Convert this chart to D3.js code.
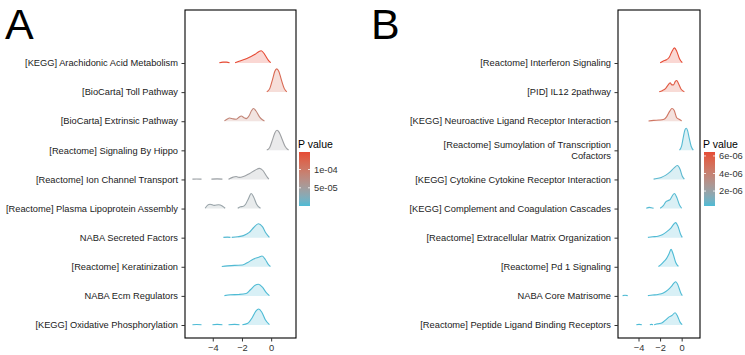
<!DOCTYPE html>
<html><head><meta charset="utf-8">
<script src="https://cdn.jsdelivr.net/npm/d3@7"></script>
<style>body{margin:0;background:#fff}svg{display:block;font-family:"Liberation Sans",Arial,sans-serif}</style>
</head><body>
<svg id="chart" width="745" height="355"></svg>
<script>
// ---------------- data ----------------
const pathwaysA = [
  "[KEGG] Arachidonic Acid Metabolism","[BioCarta] Toll Pathway","[BioCarta] Extrinsic Pathway",
  "[Reactome] Signaling By Hippo","[Reactome] Ion Channel Transport","[Reactome] Plasma Lipoprotein Assembly",
  "NABA Secreted Factors","[Reactome] Keratinization","NABA Ecm Regulators","[KEGG] Oxidative Phosphorylation"];
const pvalA = [1.478e-4,1.2e-4,8.5e-5,4.5e-5,4.3e-5,4.0e-5,3e-6,2e-6,1e-6,3e-7];
// density curves: list of segments, each a list of [log fold change, density]
const densA = [
  [[[-3.55,0.01],[-3.3,0.03],[-3.05,0.03],[-2.85,0.01]],
   [[-2.47,0.01],[-2.2,0.06],[-1.8,0.13],[-1.49,0.2],[-1.1,0.3],[-0.85,0.39],[-0.68,0.42],[-0.45,0.3],[-0.2,0.1],[-0.03,0.01]]],
  [[[-0.3,0.01],[-0.1,0.12],[0.1,0.45],[0.25,0.72],[0.38,0.8],[0.52,0.72],[0.7,0.42],[0.9,0.12],[1.07,0.01]]],
  [[[-3.2,0.01],[-3.0,0.08],[-2.86,0.11],[-2.6,0.08],[-2.4,0.07],[-2.2,0.14],[-2.05,0.18],[-1.85,0.12],[-1.71,0.09],[-1.5,0.2],[-1.35,0.36],[-1.21,0.44],[-1.05,0.36],[-0.8,0.15],[-0.6,0.05],[-0.46,0.01]]],
  [[[-0.3,0.01],[-0.1,0.1],[0.1,0.38],[0.25,0.6],[0.4,0.69],[0.55,0.62],[0.75,0.38],[0.95,0.14],[1.19,0.01]]],
  [[[-5.39,0.01],[-5.1,0.015],[-4.77,0.01]],
   [[-4.09,0.01],[-3.7,0.02],[-3.34,0.01]],
   [[-2.92,0.01],[-2.6,0.08],[-2.4,0.1],[-2.2,0.07],[-1.9,0.1],[-1.5,0.2],[-1.1,0.32],[-0.8,0.38],[-0.55,0.3],[-0.3,0.1],[-0.16,0.01]]],
  [[[-4.52,0.01],[-4.35,0.12],[-4.18,0.15],[-3.9,0.11],[-3.6,0.13],[-3.35,0.09],[-3.15,0.01]],
   [[-2.29,0.01],[-2.1,0.06],[-1.95,0.07],[-1.75,0.15],[-1.55,0.35],[-1.37,0.52],[-1.2,0.4],[-1.0,0.15],[-0.73,0.01]]],
  [[[-3.27,0.01],[-3.0,0.02],[-2.79,0.01]],
   [[-2.7,0.01],[-2.3,0.03],[-1.9,0.07],[-1.5,0.18],[-1.2,0.35],[-0.87,0.48],[-0.6,0.38],[-0.35,0.15],[-0.12,0.01]]],
  [[[-3.38,0.01],[-3.0,0.03],[-2.5,0.05],[-1.97,0.06],[-1.6,0.15],[-1.2,0.27],[-0.85,0.33],[-0.62,0.37],[-0.4,0.25],[-0.2,0.08],[-0.05,0.01]]],
  [[[-3.2,0.01],[-2.8,0.04],[-2.2,0.05],[-1.71,0.08],[-1.4,0.22],[-1.1,0.37],[-0.87,0.4],[-0.6,0.3],[-0.35,0.12],[-0.12,0.01]]],
  [[[-5.39,0.01],[-5.1,0.015],[-4.77,0.01]],
   [[-4.02,0.01],[-3.7,0.02],[-3.34,0.01]],
   [[-2.92,0.01],[-2.5,0.02],[-2.17,0.01]],
   [[-1.97,0.01],[-1.6,0.06],[-1.3,0.25],[-1.05,0.48],[-0.85,0.55],[-0.65,0.45],[-0.4,0.18],[-0.12,0.01]]]
];

const pathwaysB = [
  "[Reactome] Interferon Signaling","[PID] IL12 2pathway","[KEGG] Neuroactive Ligand Receptor Interaction",
  "[Reactome] Sumoylation of Transcription\nCofactors","[KEGG] Cytokine Cytokine Receptor Interaction",
  "[KEGG] Complement and Coagulation Cascades","[Reactome] Extracellular Matrix Organization",
  "[Reactome] Pd 1 Signaling","NABA Core Matrisome","[Reactome] Peptide Ligand Binding Receptors"];
const pvalB = [6.45e-6,5.9e-6,4.6e-6,4e-7,5e-7,4e-7,3.5e-7,3e-7,3.2e-7,3e-7];
const densB = [
  [[[-1.99,0.01],[-1.7,0.07],[-1.41,0.11],[-1.15,0.2],[-0.9,0.4],[-0.67,0.52],[-0.45,0.4],[-0.2,0.15],[0.06,0.01]]],
  [[[-2.08,0.01],[-1.8,0.05],[-1.5,0.12],[-1.25,0.25],[-1.07,0.32],[-0.9,0.25],[-0.75,0.25],[-0.6,0.36],[-0.46,0.4],[-0.3,0.3],[-0.05,0.1],[0.25,0.01]]],
  [[[-3.07,0.01],[-2.6,0.03],[-2.1,0.04],[-1.69,0.06],[-1.4,0.15],[-1.1,0.35],[-0.9,0.44],[-0.7,0.38],[-0.46,0.12],[-0.2,0.06],[0.0,0.01]]],
  [[[-0.2,0.01],[0.0,0.15],[0.15,0.45],[0.3,0.7],[0.43,0.76],[0.55,0.68],[0.7,0.42],[0.88,0.14],[1.08,0.01]]],
  [[[-2.6,0.01],[-2.3,0.03],[-1.9,0.07],[-1.5,0.14],[-1.1,0.25],[-0.7,0.4],[-0.4,0.48],[-0.15,0.35],[0.05,0.12],[0.25,0.01]]],
  [[[-3.28,0.01],[-3.0,0.04],[-2.8,0.03],[-2.6,0.01]],
   [[-1.99,0.01],[-1.7,0.1],[-1.45,0.24],[-1.29,0.27],[-1.05,0.32],[-0.85,0.45],[-0.67,0.52],[-0.45,0.38],[-0.2,0.12],[0.0,0.01]]],
  [[[-3.13,0.01],[-2.7,0.03],[-2.2,0.05],[-1.8,0.1],[-1.4,0.2],[-1.0,0.33],[-0.7,0.48],[-0.55,0.52],[-0.35,0.4],[-0.1,0.12],[0.06,0.01]]],
  [[[-2.15,0.01],[-1.9,0.08],[-1.6,0.2],[-1.41,0.28],[-1.2,0.42],[-0.98,0.6],[-0.8,0.45],[-0.55,0.15],[-0.3,0.01]]],
  [[[-5.47,0.01],[-5.25,0.02],[-5.0,0.01]],
   [[-3.13,0.01],[-2.7,0.03],[-2.2,0.05],[-1.7,0.1],[-1.3,0.2],[-0.95,0.33],[-0.7,0.45],[-0.55,0.49],[-0.35,0.38],[-0.1,0.12],[0.06,0.01]]],
  [[[-4.2,0.01],[-3.95,0.02],[-3.69,0.01]],
   [[-2.95,0.01],[-2.8,0.02],[-2.65,0.01]],
   [[-2.55,0.01],[-2.2,0.04],[-1.8,0.08],[-1.5,0.17],[-1.16,0.28],[-0.9,0.33],[-0.61,0.42],[-0.4,0.32],[-0.15,0.1],[0.05,0.01]]]
];

const xTicks = [-4, -2, 0];
const legendTicksA = [1e-4, 5e-5];
const legendLabelsA = ["1e-04", "5e-05"];
const legendTicksB = [6e-6, 4e-6, 2e-6];
const legendLabelsB = ["6e-06", "4e-06", "2e-06"];
const panelLetters = ["A", "B"];

// ---------------- drawing ----------------
const svg = d3.select("#chart");
const lowCol = "#4DBBD5", highCol = "#E64B35";

function drawPanel(o) {
  const g = svg.append("g");
  const x = d3.scaleLinear().domain([-5.9, 1.7]).range([o.left, o.right]);
  const y = d3.scalePoint().domain(o.cats).range([63, 325]);
  const h = d3.scaleLinear().domain([0, 1]).range([0, 29]);
  const pext = d3.extent(o.pvals);
  const col = d3.scaleLinear().domain(pext).range([lowCol, highCol]).interpolate(d3.interpolateLab);

  // ridges
  o.cats.forEach((c, i) => {
    const base = y(c);
    const color = col(o.pvals[i]);
    o.dens[i].forEach(seg => {
      const area = d3.area().x(d => x(d[0])).y0(base).y1(d => base - h(d[1])).curve(d3.curveMonotoneX);
      const line = d3.line().x(d => x(d[0])).y(d => base - h(d[1])).curve(d3.curveMonotoneX);
      g.append("path").attr("d", area(seg)).attr("fill", color).attr("fill-opacity", 0.22);
      g.append("path").attr("d", line(seg)).attr("fill", "none").attr("stroke", color).attr("stroke-width", 1.1);
    });
  });

  // box
  g.append("rect").attr("x", o.left).attr("y", 10).attr("width", o.right - o.left).attr("height", 328)
    .attr("fill", "none").attr("stroke", "#000").attr("stroke-width", 1.1);

  // x axis
  const xa = g.append("g").attr("transform", "translate(0,338)")
    .call(d3.axisBottom(x).tickValues(xTicks).tickSize(3.5).tickPadding(3).tickFormat(d3.format("d")));
  xa.select(".domain").remove();
  xa.selectAll("line").attr("stroke", "#333");
  xa.selectAll("text").attr("fill", "#333").style("font-size", "9.3px").style("font-family", "Liberation Sans, Arial, sans-serif");

  // y axis
  const ya = g.append("g").attr("transform", `translate(${o.left},0)`)
    .call(d3.axisLeft(y).tickSize(3.5).tickPadding(3).tickFormat(""));
  ya.select(".domain").remove();
  ya.selectAll("line").attr("stroke", "#333");
  o.cats.forEach(c => {
    const lines = c.split("\n");
    const t = g.append("text").attr("x", o.left - 7).attr("y", y(c) - (lines.length - 1) * 5.5)
      .attr("text-anchor", "end").attr("fill", "#1a1a1a").style("font-size", "9.3px");
    lines.forEach((l, k) => t.append("tspan").attr("x", o.left - 7).attr("dy", k === 0 ? "0.35em" : "1.18em").text(l));
  });

  // legend
  const lg = g.append("g");
  const gid = "grad" + o.letter;
  const grad = svg.append("defs").append("linearGradient").attr("id", gid)
    .attr("x1", 0).attr("y1", 1).attr("x2", 0).attr("y2", 0);
  d3.range(0, 1.0001, 0.1).forEach(t => grad.append("stop").attr("offset", t)
    .attr("stop-color", col(pext[0] + t * (pext[1] - pext[0]))));
  const barTop = 152, barBot = 206;
  const ly = d3.scaleLinear().domain(pext).range([barBot, barTop]);
  lg.append("text").attr("x", o.legX).attr("y", 148).text("P value").attr("fill", "#000").style("font-size", "10.5px");
  lg.append("rect").attr("x", o.legX + 1).attr("y", barTop).attr("width", 11).attr("height", barBot - barTop).attr("fill", `url(#${gid})`);
  o.legTicks.forEach((v, k) => {
    const yy = ly(v);
    lg.append("line").attr("x1", o.legX + 1).attr("x2", o.legX + 3).attr("y1", yy).attr("y2", yy).attr("stroke", "#fff").attr("stroke-width", 0.8);
    lg.append("line").attr("x1", o.legX + 10).attr("x2", o.legX + 12).attr("y1", yy).attr("y2", yy).attr("stroke", "#fff").attr("stroke-width", 0.8);
    lg.append("text").attr("x", o.legX + 16).attr("y", yy).attr("dy", "0.35em").text(o.legLabels[k]).attr("fill", "#333").style("font-size", "9.3px");
  });

  // panel letter
  svg.append("text").attr("x", o.letterX).attr("y", 39).text(o.letter).attr("fill", "#000").style("font-size", "43px");
}

drawPanel({cats: pathwaysA, pvals: pvalA, dens: densA, left: 185, right: 296, legX: 298,
  legTicks: legendTicksA, legLabels: legendLabelsA, letter: panelLetters[0], letterX: 5});
drawPanel({cats: pathwaysB, pvals: pvalB, dens: densB, left: 618, right: 700, legX: 703,
  legTicks: legendTicksB, legLabels: legendLabelsB, letter: panelLetters[1], letterX: 371});
</script>
</body></html>
